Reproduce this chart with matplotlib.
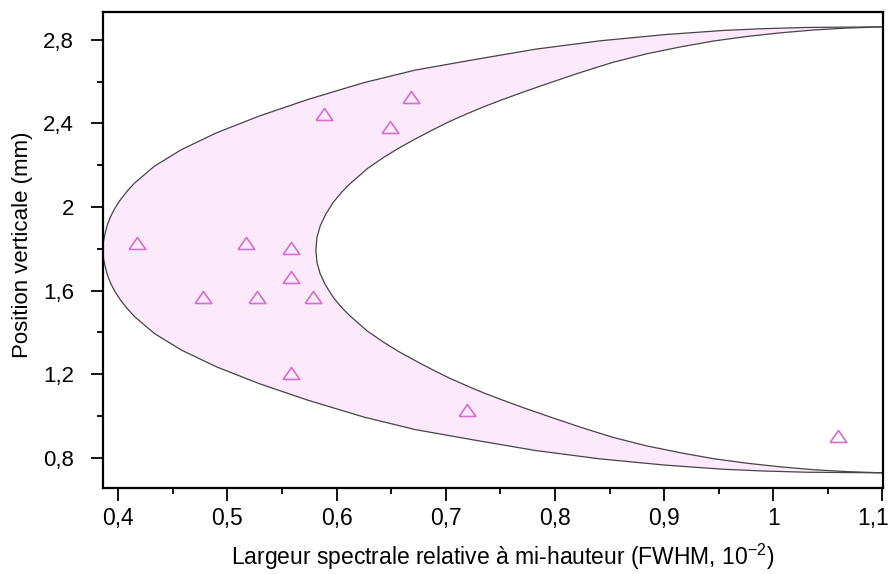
import numpy as np
import matplotlib
matplotlib.use('Agg')
import matplotlib.pyplot as plt
from matplotlib.ticker import FixedLocator
from matplotlib.transforms import ScaledTranslation

plt.rcParams['font.family'] = ['Liberation Sans', 'DejaVu Sans']
plt.rcParams['mathtext.fontset'] = 'custom'
plt.rcParams['mathtext.rm'] = 'Liberation Sans'

# measured points (triangles)
fwhm = [0.417, 0.478, 0.517, 0.527, 0.558, 0.558, 0.558, 0.578, 0.588, 0.649, 0.668, 0.719, 1.059]
pos = [1.828, 1.569, 1.828, 1.569, 1.804, 1.665, 1.206, 1.569, 2.445, 2.383, 2.526, 1.029, 0.904]

# outer boundary of the band (vertex -> right end)
outer_x = [0.386, 0.3864, 0.388, 0.390, 0.393, 0.397, 0.402, 0.408, 0.415, 0.433, 0.458, 0.490,
           0.529, 0.574, 0.625, 0.672, 0.726, 0.782, 0.841, 0.901, 0.955, 0.990, 1.030, 1.1]
outer_top = [1.795, 1.835, 1.875, 1.915, 1.955, 1.995, 2.035, 2.075, 2.115, 2.195, 2.275, 2.355,
             2.435, 2.515, 2.595, 2.655, 2.705, 2.755, 2.795, 2.825, 2.845, 2.853, 2.859, 2.862]
outer_bot = [1.795, 1.755, 1.715, 1.675, 1.635, 1.595, 1.555, 1.515, 1.475, 1.395, 1.315, 1.235,
             1.155, 1.075, 0.995, 0.935, 0.885, 0.835, 0.795, 0.765, 0.745, 0.737, 0.731, 0.728]

# inner boundary of the band (vertex -> right end)
inner_x = [0.581, 0.582, 0.585, 0.590, 0.597, 0.605, 0.612, 0.628, 0.643, 0.658, 0.673, 0.688,
           0.703, 0.719, 0.735, 0.750, 0.772, 0.793, 0.823, 0.853, 0.884, 0.915, 0.945, 0.976,
           1.006, 1.037, 1.067, 1.1]
inner_top = [1.795, 1.855, 1.910, 1.965, 2.023, 2.073, 2.110, 2.183, 2.237, 2.285, 2.328, 2.369,
             2.408, 2.445, 2.480, 2.510, 2.552, 2.590, 2.643, 2.692, 2.733, 2.766, 2.794, 2.816,
             2.833, 2.847, 2.856, 2.862]
inner_bot = [1.795, 1.735, 1.680, 1.625, 1.567, 1.517, 1.480, 1.407, 1.353, 1.305, 1.262, 1.221,
             1.182, 1.145, 1.110, 1.080, 1.038, 1.000, 0.947, 0.898, 0.857, 0.824, 0.796, 0.774,
             0.757, 0.743, 0.734, 0.728]

xticks = [0.4, 0.5, 0.6, 0.7, 0.8, 0.9, 1.0, 1.1]
xticklabels = ['0,4', '0,5', '0,6', '0,7', '0,8', '0,9', '1', '1,1']
yticks = [0.8, 1.2, 1.6, 2.0, 2.4, 2.8]
yticklabels = ['0,8', '1,2', '1,6', '2', '2,4', '2,8']

fig = plt.figure(figsize=(8.95, 5.74), dpi=100)
ax = fig.add_axes([103 / 895, 86 / 574, 780 / 895, 476 / 574])

# each curve as one path: bottom end -> vertex -> top end
ox = outer_x[::-1] + outer_x[1:]
oy = outer_bot[::-1] + outer_top[1:]
ix = inner_x[::-1] + inner_x[1:]
iy = inner_bot[::-1] + inner_top[1:]

ax.fill(ox + ix[::-1], oy + iy[::-1], color='#fde9fc', lw=0, zorder=1)
ax.plot(ox, oy, color='#454545', lw=0.9, zorder=2)
ax.plot(ix, iy, color='#454545', lw=0.9, zorder=2)

tri = [(-1, -0.72), (1, -0.72), (0, 0.72), (-1, -0.72)]
ax.plot(fwhm, pos, ls='none', marker=tri, ms=12, mfc='none', mec='#d46fcb',
        mew=1.2, zorder=3)

ax.set_xlim(0.386, 1.1005)
ax.set_ylim(0.6555, 2.933)

ax.xaxis.set_major_locator(FixedLocator(xticks))
ax.set_xticklabels(xticklabels)
ax.yaxis.set_major_locator(FixedLocator(yticks))
ax.set_yticklabels(yticklabels)
ax.xaxis.set_minor_locator(FixedLocator([t + 0.05 for t in xticks[:-1]]))
ax.yaxis.set_minor_locator(FixedLocator([t + 0.2 for t in yticks[:-1]] + [0.6]))

for s in ax.spines.values():
    s.set_linewidth(1.6)
ax.tick_params(which='major', direction='out', length=9, width=1.3)
ax.tick_params(which='minor', direction='out', length=4.5, width=1.3)
ax.tick_params(axis='y', which='major', pad=12, labelsize=16)
ax.tick_params(axis='x', which='major', pad=5, labelsize=16.5)

# last x label pulled left so it stays inside the picture
last = ax.get_xticklabels()[-1]
last.set_transform(last.get_transform() + ScaledTranslation(-9 / 100, 0, fig.dpi_scale_trans))

ax.set_xlabel('Largeur spectrale relative à mi-hauteur (FWHM, 10$^{\\mathregular{-2}}$)',
              fontsize=16.5)
ax.set_ylabel('Position verticale (mm)', fontsize=16)
ax.xaxis.set_label_coords(0.513, -0.113)
ax.yaxis.set_label_coords(-0.09, 0.51)

fig.savefig('out.png', dpi=100)
